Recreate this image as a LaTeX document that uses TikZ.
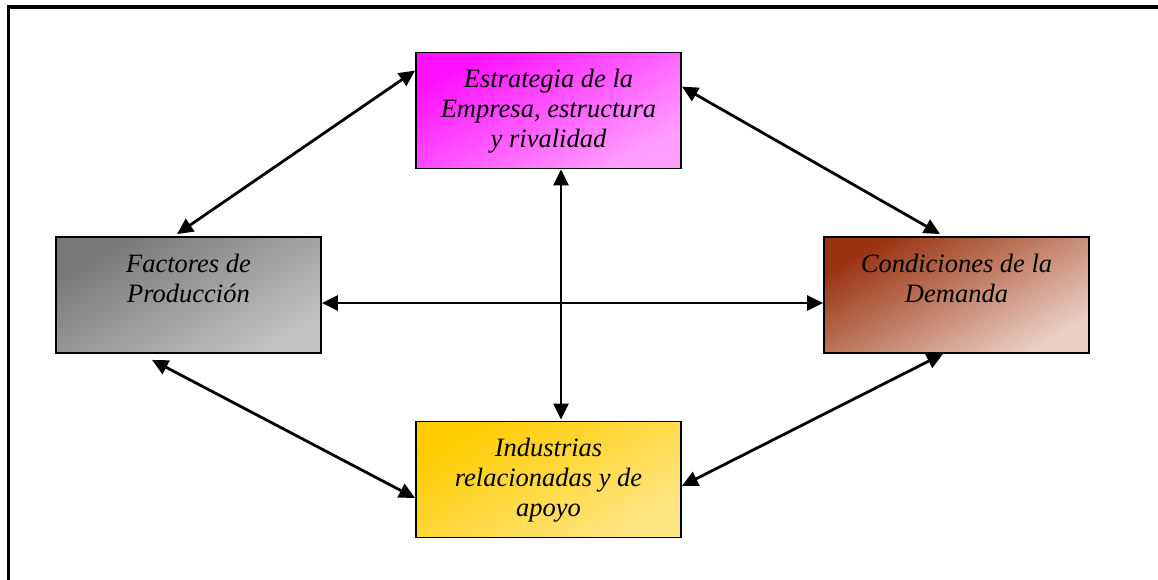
\documentclass[tikz,border=0pt]{standalone}
\usepackage{fontspec}
\setmainfont{Liberation Serif}
\usetikzlibrary{arrows.meta,calc}
\definecolor{magA}{HTML}{FF10FF}
\definecolor{magB}{HTML}{FFA0FF}
\definecolor{grayA}{HTML}{777777}
\definecolor{grayB}{HTML}{C2C2C2}
\definecolor{brownA}{HTML}{993311}
\definecolor{brownB}{HTML}{EACFC2}
\definecolor{yelA}{HTML}{FFCC00}
\definecolor{yelB}{HTML}{FFE684}
\tikzset{
  box/.style={draw=black, line width=1.8pt, minimum width=265pt, minimum height=116pt, inner sep=0pt},
  grad/.style n args={2}{top color=#1, bottom color=#2, shading angle=30},
  lbl/.style={align=center, inner sep=0pt, anchor=base, font=\fontsize{26.5pt}{30pt}\selectfont\itshape},
  link/.style={line width=2.8pt, {Triangle[length=16pt,width=15pt]}-{Triangle[length=16pt,width=15pt]}},
  frame/.style={line width=3.8pt, black}
}
\begin{document}
\begin{tikzpicture}[x=1pt,y=-1pt]
\useasboundingbox (0,0) rectangle (1158,580);
\draw[frame] (8.5,7) -- (1158,7);
\draw[frame] (8.5,5.1) -- (8.5,580);
% boxes
\node[box, grad={magA}{magB}] (top) at (548.5,110.5) {};
\node[box, grad={grayA}{grayB}] (lft) at (188.5,295) {};
\node[box, grad={brownA}{brownB}] (rgt) at (956.5,295) {};
\node[box, grad={yelA}{yelB}] (bot) at (548.5,479.5) {};
% labels (base anchor = baseline of last line)
\node[lbl] (ttop) at ($(top.north)+(0,96)$) {Estrategia de la\\Empresa, estructura\\y rivalidad};
\node[lbl] (tlft) at ($(lft.north)+(0,66)$) {Factores de\\Producción};
\node[lbl] (trgt) at ($(rgt.north)+(0,66)$) {Condiciones de la\\Demanda};
\node[lbl] (tbot) at ($(bot.north)+(0,96)$) {Industrias\\relacionadas y de\\apoyo};
% connectors
\draw[link] ($(top.north west)+(0,19)$) -- ($(lft.north)+(-11.5,-2)$);
\draw[link] ($(top.north east)+(0,35)$) -- ($(rgt.north)+(-16.5,-2)$);
\draw[link] ($(top.south)+(12.5,0)$) -- ($(bot.north)+(12.5,-1)$);
\draw[link] ($(lft.east)+(0,8)$) -- ($(rgt.west)+(0,8)$);
\draw[link] ($(lft.south)+(-36.5,6)$) -- ($(bot.west)+(0,18.5)$);
\draw[link] ($(bot.east)+(0,6.5)$) -- ($(rgt.south)+(-13.5,0)$);
\end{tikzpicture}
\end{document}
